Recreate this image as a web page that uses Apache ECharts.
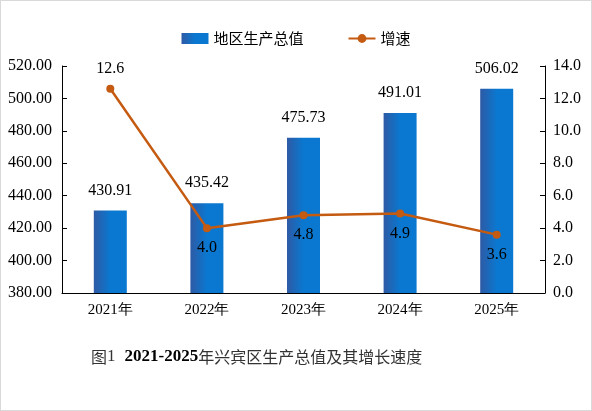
<!DOCTYPE html>
<html>
<head>
<meta charset="utf-8">
<script src="https://cdn.jsdelivr.net/npm/echarts@6/dist/echarts.min.js"></script>
<style>
  html, body { margin: 0; padding: 0; background: #fff; }
  #chart { width: 590px; height: 409px; border: 1px solid #d9d9d9; }
</style>
</head>
<body>
<div id="chart"></div>
<script>
const years = ['2021年', '2022年', '2023年', '2024年', '2025年'];
const gdp = [430.91, 435.42, 475.73, 491.01, 506.02];
const growth = [12.6, 4.0, 4.8, 4.9, 3.6];
const growthLabelPos = ['top', 'bottom', 'bottom', 'bottom', 'bottom'];

const serif = '"Liberation Serif", "Times New Roman", serif';
const chart = echarts.init(document.getElementById('chart'));

const option = {
  animation: false,
  textStyle: { fontFamily: serif },
  title: {
    text: '{cn|图}{n|1}  {b|2021-2025}{cn|年兴宾区生产总值及其增长速度}',
    left: 85,
    top: 342,
    textStyle: {
      rich: {
        cn: { fontFamily: '"Noto Sans CJK SC"', fontSize: 16, fontWeight: 'normal', color: '#333' },
        n: { fontFamily: serif, fontSize: 17, fontWeight: 'normal', color: '#333' },
        b: { fontFamily: serif, fontSize: 17, fontWeight: 'bold', color: '#000' }
      }
    }
  },
  legend: {
    top: 25,
    left: 'center',
    itemGap: 44,
    itemWidth: 27,
    itemHeight: 11,
    textStyle: { fontFamily: '"Noto Sans CJK SC"', fontSize: 15, color: '#000' },
    data: [
      { name: '地区生产总值', icon: 'rect' },
      { name: '增速' }
    ]
  },
  grid: { left: 61, right: 46, top: 65, bottom: 117 },
  xAxis: {
    type: 'category',
    data: years,
    axisLine: { lineStyle: { color: '#000', width: 1 } },
    axisTick: { show: false },
    axisLabel: { color: '#000', fontSize: 15, fontFamily: serif, margin: 10 }
  },
  yAxis: [
    {
      type: 'value',
      min: 380, max: 520, interval: 20,
      axisLine: { show: true, lineStyle: { color: '#000' } },
      axisTick: { show: true, inside: true, length: 5, lineStyle: { color: '#000' } },
      splitLine: { show: false },
      axisLabel: { color: '#000', fontSize: 16, fontFamily: serif, margin: 10,
        formatter: v => v.toFixed(2) }
    },
    {
      type: 'value',
      min: 0, max: 14, interval: 2,
      axisLine: { show: true, lineStyle: { color: '#000' } },
      axisTick: { show: true, inside: true, length: 5, lineStyle: { color: '#000' } },
      splitLine: { show: false },
      axisLabel: { color: '#000', fontSize: 16, fontFamily: serif, margin: 8,
        formatter: v => v.toFixed(1) }
    }
  ],
  series: [
    {
      name: '地区生产总值',
      type: 'bar',
      barWidth: 33,
      data: gdp,
      itemStyle: {
        color: new echarts.graphic.LinearGradient(0, 0, 1, 0, [
          { offset: 0, color: '#2e5aa5' },
          { offset: 0.5, color: '#0a78d0' },
          { offset: 1, color: '#0a78d0' }
        ])
      },
      label: {
        show: true, position: 'top', distance: 12,
        color: '#000', fontSize: 16, fontFamily: serif,
        formatter: p => p.value.toFixed(2)
      }
    },
    {
      name: '增速',
      type: 'line',
      yAxisIndex: 1,
      symbol: 'circle',
      symbolSize: 8,
      data: growth.map((v, i) => ({
        value: v,
        label: { position: growthLabelPos[i] }
      })),
      lineStyle: { color: '#c55a11', width: 2.5 },
      itemStyle: { color: '#c55a11' },
      label: {
        show: true, distance: 8,
        color: '#000', fontSize: 16, fontFamily: serif,
        formatter: p => p.value.toFixed(1)
      }
    }
  ]
};
chart.setOption(option);
</script>
</body>
</html>
